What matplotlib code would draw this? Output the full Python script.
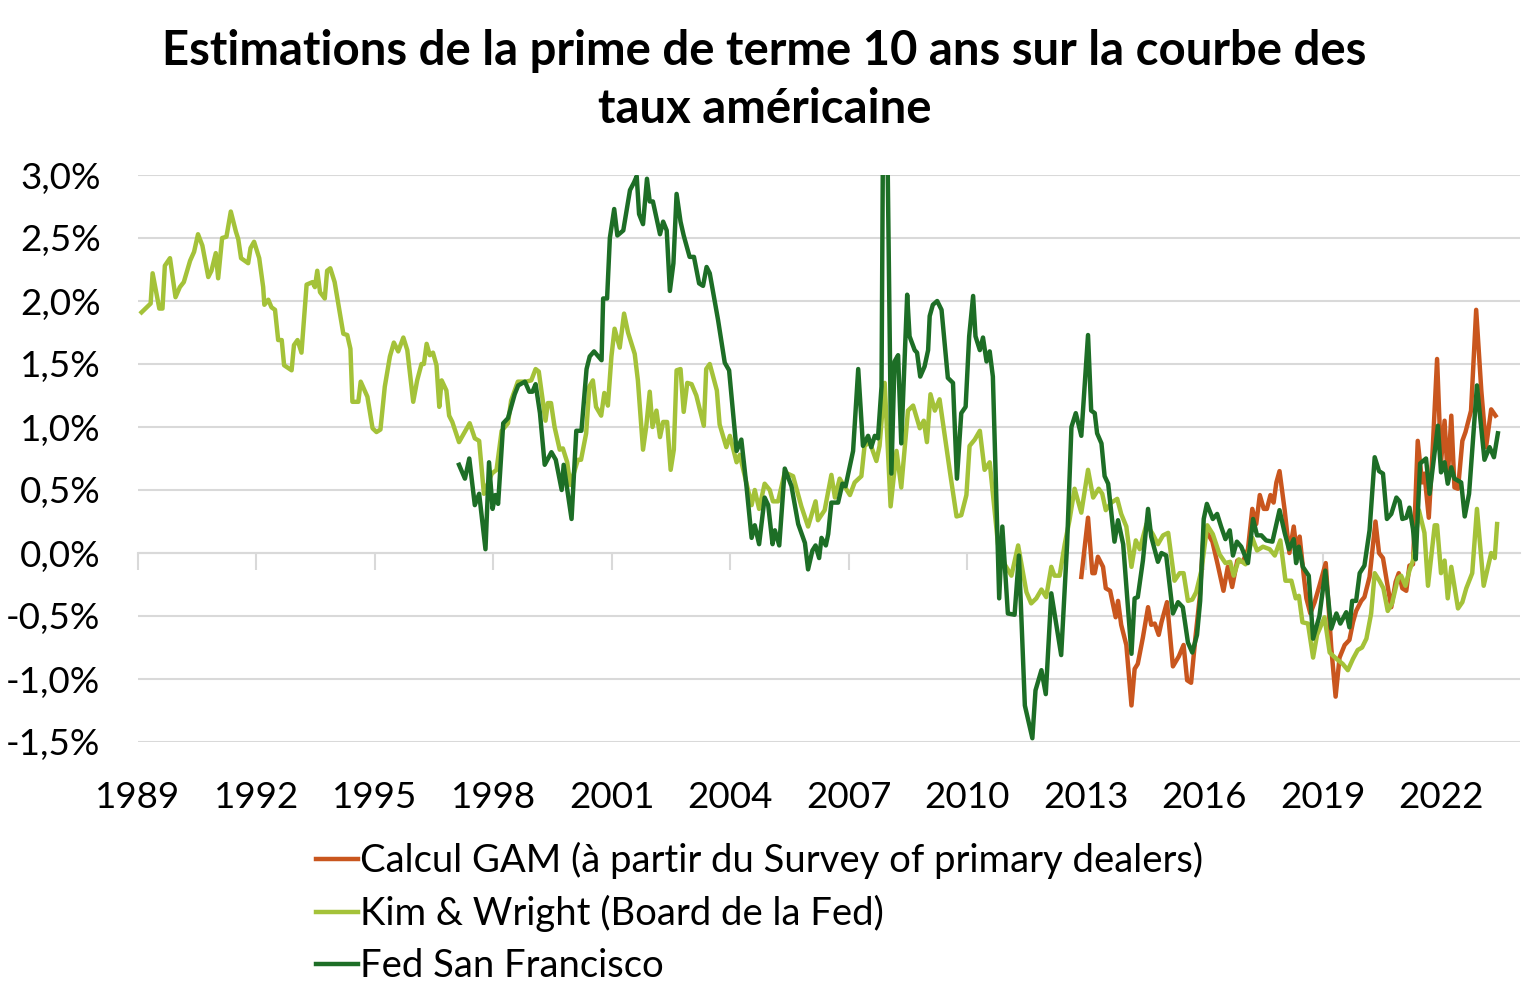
import matplotlib
matplotlib.use("Agg")
import matplotlib.pyplot as plt
from matplotlib.ticker import FuncFormatter

plt.rcParams['font.family'] = ['Lato', 'DejaVu Sans']

# ---------------- data (decimal years, % values) ----------------
kw_years = [1989.09, 1989.32, 1989.37, 1989.54, 1989.62, 1989.68, 1989.81, 1989.95, 1990.06, 1990.16,
            1990.32, 1990.42, 1990.52, 1990.63, 1990.78, 1990.86, 1990.97, 1991.03, 1991.13, 1991.24,
            1991.35, 1991.48, 1991.54, 1991.61, 1991.79, 1991.85, 1991.94, 1992.07, 1992.17, 1992.20,
            1992.30, 1992.38, 1992.47, 1992.55, 1992.64, 1992.70, 1992.89, 1992.95, 1993.04, 1993.14,
            1993.27, 1993.42, 1993.48, 1993.54, 1993.61, 1993.73, 1993.79, 1993.87, 1993.98, 1994.20,
            1994.30, 1994.38, 1994.43, 1994.58, 1994.64, 1994.81, 1994.94, 1995.04, 1995.14, 1995.25,
            1995.38, 1995.48, 1995.59, 1995.72, 1995.82, 1995.97, 1996.07, 1996.18, 1996.24, 1996.31,
            1996.39, 1996.47, 1996.56, 1996.63, 1996.69, 1996.81, 1996.88, 1996.96, 1997.13, 1997.40,
            1997.53, 1997.64, 1997.76, 1997.96, 1998.08, 1998.21, 1998.37, 1998.45, 1998.62, 1998.83,
            1998.96, 1999.07, 1999.15, 1999.32, 1999.38, 1999.46, 1999.55, 1999.68, 1999.76, 1999.87,
            1999.95, 2000.14, 2000.22, 2000.35, 2000.43, 2000.52, 2000.60, 2000.73, 2000.81, 2000.90,
            2000.99, 2001.07, 2001.20, 2001.31, 2001.41, 2001.58, 2001.66, 2001.79, 2001.87, 2001.96,
            2002.03, 2002.13, 2002.22, 2002.30, 2002.40, 2002.49, 2002.57, 2002.64, 2002.74, 2002.82,
            2002.91, 2003.02, 2003.14, 2003.33, 2003.39, 2003.48, 2003.66, 2003.73, 2003.90, 2003.99,
            2004.16, 2004.24, 2004.54, 2004.62, 2004.73, 2004.87, 2005.00, 2005.08, 2005.21, 2005.38,
            2005.59, 2005.80, 2005.97, 2006.16, 2006.22, 2006.39, 2006.56, 2006.65, 2006.77, 2007.03,
            2007.15, 2007.32, 2007.40, 2007.53, 2007.70, 2007.78, 2007.91, 2008.06, 2008.21, 2008.33,
            2008.50, 2008.63, 2008.80, 2008.90, 2008.98, 2009.07, 2009.18, 2009.30, 2009.56, 2009.73,
            2009.85, 2009.98, 2010.06, 2010.19, 2010.32, 2010.44, 2010.57, 2010.78, 2010.95, 2011.12,
            2011.29, 2011.50, 2011.62, 2011.75, 2011.88, 2012.00, 2012.13, 2012.21, 2012.34, 2012.47,
            2012.59, 2012.72, 2012.89, 2013.06, 2013.19, 2013.33, 2013.42, 2013.51, 2013.65, 2013.80,
            2013.90, 2014.03, 2014.16, 2014.27, 2014.37, 2014.54, 2014.70, 2014.83, 2014.96, 2015.09,
            2015.25, 2015.38, 2015.48, 2015.59, 2015.70, 2015.80, 2015.93, 2016.08, 2016.22, 2016.39,
            2016.54, 2016.66, 2016.75, 2016.88, 2017.05, 2017.22, 2017.34, 2017.49, 2017.66, 2017.79,
            2017.93, 2018.06, 2018.21, 2018.32, 2018.40, 2018.49, 2018.63, 2018.76, 2018.86, 2019.05,
            2019.18, 2019.35, 2019.51, 2019.64, 2019.77, 2019.89, 2020.00, 2020.11, 2020.23, 2020.32,
            2020.44, 2020.54, 2020.65, 2020.76, 2020.91, 2020.99, 2021.10, 2021.20, 2021.29, 2021.44,
            2021.58, 2021.67, 2021.84, 2021.90, 2022.00, 2022.09, 2022.17, 2022.26, 2022.43, 2022.54,
            2022.64, 2022.79, 2022.91, 2023.08, 2023.27, 2023.36, 2023.42]
kw_vals = [1.91, 1.98, 2.22, 1.94, 1.94, 2.28, 2.34, 2.03, 2.11, 2.15,
           2.32, 2.39, 2.53, 2.44, 2.19, 2.24, 2.38, 2.18, 2.50, 2.51,
           2.71, 2.55, 2.49, 2.34, 2.30, 2.42, 2.47, 2.34, 2.11, 1.97,
           2.01, 1.95, 1.93, 1.69, 1.69, 1.49, 1.45, 1.65, 1.69, 1.59,
           2.13, 2.15, 2.11, 2.24, 2.07, 2.02, 2.24, 2.26, 2.15, 1.74,
           1.73, 1.62, 1.20, 1.20, 1.36, 1.24, 0.99, 0.96, 0.98, 1.32,
           1.56, 1.67, 1.60, 1.71, 1.61, 1.20, 1.37, 1.50, 1.50, 1.66,
           1.57, 1.59, 1.49, 1.16, 1.37, 1.29, 1.09, 1.04, 0.88, 1.03,
           0.91, 0.89, 0.47, 0.63, 0.66, 0.97, 1.03, 1.21, 1.36, 1.36,
           1.37, 1.46, 1.44, 1.05, 1.19, 1.19, 1.00, 0.82, 0.83, 0.72,
           0.54, 0.74, 0.74, 0.95, 1.32, 1.37, 1.16, 1.09, 1.27, 1.17,
           1.56, 1.78, 1.63, 1.90, 1.75, 1.58, 1.37, 0.82, 1.00, 1.28,
           1.00, 1.13, 0.92, 1.04, 1.04, 0.66, 0.82, 1.45, 1.46, 1.12,
           1.35, 1.34, 1.25, 1.01, 1.46, 1.50, 1.29, 1.02, 0.84, 0.93,
           0.72, 0.78, 0.38, 0.50, 0.35, 0.55, 0.50, 0.41, 0.41, 0.64,
           0.61, 0.37, 0.21, 0.41, 0.26, 0.34, 0.62, 0.44, 0.59, 0.46,
           0.56, 0.61, 0.85, 0.88, 0.73, 0.85, 1.35, 0.37, 0.81, 0.52,
           1.13, 1.17, 0.99, 1.05, 0.88, 1.26, 1.13, 1.22, 0.65, 0.29,
           0.30, 0.46, 0.85, 0.90, 0.97, 0.66, 0.72, 0.07, -0.09, -0.18,
           0.06, -0.31, -0.40, -0.36, -0.29, -0.35, -0.11, -0.18, -0.18, 0.07,
           0.26, 0.51, 0.32, 0.66, 0.44, 0.51, 0.47, 0.34, 0.40, 0.43,
           0.31, 0.21, -0.11, 0.10, 0.03, 0.23, 0.15, 0.07, 0.14, 0.16,
           -0.22, -0.16, -0.16, -0.38, -0.37, -0.31, -0.14, 0.22, 0.15, -0.01,
           -0.08, -0.07, -0.18, -0.05, -0.09, 0.12, 0.02, 0.05, 0.03, -0.02,
           0.10, -0.22, -0.22, -0.36, -0.34, -0.55, -0.56, -0.83, -0.65, -0.51,
           -0.79, -0.84, -0.88, -0.93, -0.84, -0.77, -0.75, -0.68, -0.48, -0.16,
           -0.22, -0.28, -0.46, -0.40, -0.20, -0.18, -0.26, -0.14, -0.06, 0.34,
           0.16, -0.26, 0.22, 0.22, -0.16, -0.06, -0.36, -0.11, -0.44, -0.39,
           -0.28, -0.16, 0.35, -0.26, 0.00, -0.04, 0.23]

sf_years = [1997.13, 1997.28, 1997.39, 1997.53, 1997.64, 1997.80, 1997.89, 1997.98, 1998.05, 1998.12,
            1998.25, 1998.37, 1998.54, 1998.63, 1998.80, 1998.91, 1998.99, 1999.07, 1999.18, 1999.30,
            1999.47, 1999.58, 1999.73, 1999.78, 1999.98, 2000.10, 2000.23, 2000.36, 2000.44, 2000.55,
            2000.74, 2000.78, 2000.88, 2000.95, 2001.06, 2001.14, 2001.29, 2001.39, 2001.46, 2001.56,
            2001.63, 2001.69, 2001.79, 2001.89, 2001.96, 2002.04, 2002.22, 2002.30, 2002.39, 2002.47,
            2002.56, 2002.64, 2002.74, 2002.82, 2002.97, 2003.08, 2003.21, 2003.31, 2003.40, 2003.48,
            2003.69, 2003.86, 2003.97, 2004.16, 2004.28, 2004.41, 2004.54, 2004.62, 2004.73, 2004.87,
            2004.96, 2005.07, 2005.13, 2005.24, 2005.38, 2005.55, 2005.72, 2005.89, 2005.97, 2006.08,
            2006.16, 2006.25, 2006.31, 2006.42, 2006.48, 2006.56, 2006.73, 2006.84, 2006.92, 2007.11,
            2007.24, 2007.36, 2007.49, 2007.57, 2007.66, 2007.74, 2007.83, 2007.88, 2007.95, 2008.08,
            2008.16, 2008.25, 2008.33, 2008.48, 2008.54, 2008.67, 2008.73, 2008.81, 2008.92, 2009.01,
            2009.05, 2009.13, 2009.24, 2009.35, 2009.51, 2009.64, 2009.74, 2009.85, 2009.96, 2010.05,
            2010.15, 2010.21, 2010.32, 2010.40, 2010.49, 2010.57, 2010.65, 2010.81, 2010.89, 2011.03,
            2011.20, 2011.31, 2011.46, 2011.65, 2011.73, 2011.88, 2011.99, 2012.13, 2012.38, 2012.53,
            2012.64, 2012.75, 2012.89, 2013.06, 2013.14, 2013.23, 2013.29, 2013.40, 2013.48, 2013.57,
            2013.73, 2013.82, 2013.95, 2014.16, 2014.24, 2014.32, 2014.45, 2014.58, 2014.66, 2014.83,
            2014.92, 2015.04, 2015.21, 2015.34, 2015.46, 2015.59, 2015.70, 2015.82, 2015.90, 2015.99,
            2016.07, 2016.22, 2016.33, 2016.43, 2016.54, 2016.65, 2016.73, 2016.83, 2016.94, 2017.11,
            2017.24, 2017.34, 2017.45, 2017.57, 2017.73, 2017.91, 2018.04, 2018.15, 2018.27, 2018.33,
            2018.40, 2018.50, 2018.65, 2018.76, 2018.92, 2019.07, 2019.22, 2019.35, 2019.45, 2019.60,
            2019.68, 2019.75, 2019.85, 2019.94, 2020.06, 2020.19, 2020.32, 2020.43, 2020.53, 2020.63,
            2020.74, 2020.87, 2020.95, 2021.02, 2021.12, 2021.20, 2021.29, 2021.36, 2021.47, 2021.62,
            2021.71, 2021.92, 2022.00, 2022.09, 2022.17, 2022.26, 2022.34, 2022.51, 2022.60, 2022.71,
            2022.91, 2023.10, 2023.23, 2023.34, 2023.44]
sf_vals = [0.70, 0.59, 0.75, 0.38, 0.47, 0.03, 0.72, 0.35, 0.46, 0.39,
           1.03, 1.07, 1.26, 1.33, 1.36, 1.28, 1.28, 1.34, 1.11, 0.70,
           0.80, 0.74, 0.50, 0.70, 0.27, 0.97, 0.97, 1.46, 1.56, 1.60,
           1.53, 2.02, 2.02, 2.50, 2.73, 2.52, 2.56, 2.75, 2.88, 2.94,
           2.99, 2.69, 2.61, 2.97, 2.79, 2.79, 2.53, 2.63, 2.56, 2.08,
           2.30, 2.85, 2.63, 2.52, 2.35, 2.35, 2.14, 2.12, 2.27, 2.22,
           1.85, 1.51, 1.45, 0.81, 0.90, 0.53, 0.12, 0.22, 0.07, 0.44,
           0.38, 0.07, 0.18, 0.06, 0.67, 0.53, 0.23, 0.08, -0.13, 0.02,
           0.06, -0.04, 0.12, 0.06, 0.15, 0.40, 0.40, 0.55, 0.53, 0.81,
           1.46, 0.85, 0.93, 0.84, 0.93, 0.91, 1.32, 4.00, 4.00, 0.63,
           1.52, 1.57, 0.87, 2.05, 1.72, 1.61, 1.59, 1.40, 1.48, 1.61,
           1.88, 1.97, 2.00, 1.93, 1.39, 1.35, 0.59, 1.11, 1.16, 1.72,
           2.04, 1.72, 1.61, 1.71, 1.52, 1.60, 1.40, -0.36, 0.21, -0.48,
           -0.49, -0.02, -1.21, -1.47, -1.09, -0.93, -1.12, -0.32, -0.81, 0.07,
           1.00, 1.11, 0.93, 1.73, 1.13, 1.11, 0.95, 0.87, 0.61, 0.55,
           0.09, 0.26, 0.07, -0.80, -0.36, -0.35, -0.06, 0.35, 0.13, -0.07,
           0.00, -0.02, -0.48, -0.39, -0.43, -0.71, -0.79, -0.65, -0.38, 0.27,
           0.39, 0.27, 0.31, 0.21, 0.11, 0.18, -0.02, 0.09, 0.05, -0.08,
           0.27, 0.14, 0.14, 0.10, 0.09, 0.34, 0.16, 0.03, 0.11, -0.08,
           0.05, -0.11, -0.18, -0.68, -0.50, -0.14, -0.60, -0.48, -0.56, -0.47,
           -0.59, -0.38, -0.38, -0.16, -0.10, 0.18, 0.76, 0.65, 0.63, 0.27,
           0.31, 0.44, 0.41, 0.27, 0.28, 0.36, 0.19, -0.05, 0.71, 0.75,
           0.47, 1.01, 0.64, 0.72, 0.55, 0.68, 0.59, 0.56, 0.29, 0.47,
           1.33, 0.74, 0.84, 0.76, 0.95]

gam_years = [2012.89, 2013.06, 2013.17, 2013.23, 2013.31, 2013.44, 2013.51, 2013.62, 2013.76, 2013.82,
             2013.90, 2014.03, 2014.16, 2014.24, 2014.32, 2014.45, 2014.58, 2014.66, 2014.75, 2014.85,
             2014.92, 2015.06, 2015.21, 2015.36, 2015.48, 2015.57, 2015.67, 2015.78, 2015.89, 2015.99,
             2016.10, 2016.21, 2016.35, 2016.49, 2016.60, 2016.71, 2016.84, 2016.98, 2017.11, 2017.22,
             2017.32, 2017.41, 2017.51, 2017.59, 2017.68, 2017.76, 2017.83, 2017.91, 2018.04, 2018.16,
             2018.27, 2018.33, 2018.42, 2018.52, 2018.59, 2018.69, 2018.80, 2018.92, 2019.08, 2019.22,
             2019.33, 2019.43, 2019.56, 2019.68, 2019.77, 2019.85, 2019.98, 2020.06, 2020.19, 2020.34,
             2020.43, 2020.53, 2020.63, 2020.74, 2020.85, 2020.93, 2021.02, 2021.12, 2021.20, 2021.29,
             2021.41, 2021.52, 2021.58, 2021.69, 2021.79, 2021.90, 2022.00, 2022.09, 2022.17, 2022.26,
             2022.34, 2022.43, 2022.54, 2022.62, 2022.76, 2022.89, 2023.02, 2023.14, 2023.27, 2023.38]
gam_vals = [-0.19, 0.28, -0.16, -0.16, -0.03, -0.11, -0.28, -0.30, -0.51, -0.38,
            -0.57, -0.73, -1.21, -0.92, -0.88, -0.67, -0.43, -0.57, -0.56, -0.65,
            -0.55, -0.39, -0.90, -0.82, -0.73, -1.01, -1.03, -0.67, -0.35, 0.17,
            0.15, 0.09, -0.10, -0.30, -0.11, -0.27, -0.06, -0.07, 0.03, 0.35,
            0.23, 0.46, 0.35, 0.35, 0.46, 0.40, 0.56, 0.65, 0.34, 0.00,
            0.21, 0.05, 0.13, -0.17, -0.36, -0.48, -0.39, -0.26, -0.08, -0.75,
            -1.14, -0.83, -0.73, -0.69, -0.55, -0.46, -0.38, -0.35, -0.19, 0.25,
            0.00, -0.04, -0.23, -0.43, -0.23, -0.16, -0.28, -0.30, -0.10, -0.09,
            0.89, 0.56, 0.63, 0.28, 0.83, 1.54, 0.72, 1.05, 0.59, 1.09,
            0.52, 0.51, 0.89, 0.96, 1.13, 1.93, 1.29, 0.84, 1.14, 1.09]

series_labels = ["Calcul GAM (à partir du Survey of primary dealers)",
                 "Kim & Wright (Board de la Fed)",
                 "Fed San Francisco"]
series_colors = ["#C9561E", "#A4C239", "#1D6E26"]
title = "Estimations de la prime de terme 10 ans sur la courbe des\ntaux américaine"
x_ticks = list(range(1989, 2023, 3))
y_ticks = [-1.5, -1.0, -0.5, 0.0, 0.5, 1.0, 1.5, 2.0, 2.5, 3.0]

# ---------------- figure ----------------
fig = plt.figure(figsize=(15.29, 9.99), dpi=100)
ax = fig.add_axes([138/1529, 1-742/999, (1520-138)/1529, (742-175)/999])

grid_col = "#D9D9D9"
lw = 3.2
h1, = ax.plot(gam_years, gam_vals, color=series_colors[0], lw=lw, zorder=3, solid_joinstyle='round')
h2, = ax.plot(kw_years, kw_vals, color=series_colors[1], lw=lw, zorder=4, solid_joinstyle='round')
h3, = ax.plot(sf_years, sf_vals, color=series_colors[2], lw=lw, zorder=5, solid_joinstyle='round')

ax.set_xlim(1989, 2024)
ax.set_ylim(-1.5, 3.0)
ax.set_yticks(y_ticks)
ax.yaxis.set_major_formatter(FuncFormatter(lambda v, p: f"{v:.1f}%".replace('.', ',')))
ax.grid(axis='y', color=grid_col, lw=1.5, zorder=0)
ax.tick_params(axis='y', length=0, labelsize=26.5, pad=27)

for s in ['top', 'right', 'left']:
    ax.spines[s].set_visible(False)
ax.spines['bottom'].set_position(('data', 0))
ax.spines['bottom'].set_color(grid_col)
ax.spines['bottom'].set_linewidth(1.5)
ax.set_xticks(x_ticks)
ax.tick_params(axis='x', direction='out', length=12, width=1.5, color=grid_col, labelbottom=False)

sec = ax.secondary_xaxis(location=0)
sec.set_xticks(x_ticks)
sec.set_xticklabels([str(y) for y in x_ticks])
sec.tick_params(axis='x', length=0, labelsize=26.5, pad=28)
sec.spines['bottom'].set_visible(False)

fig.text(0.5, 1-80/999, title, ha='center', va='center', fontsize=34, fontweight='bold',
         linespacing=1.4)

leg = fig.legend([h1, h2, h3], series_labels, loc='upper left',
                 bbox_to_anchor=(316/1529, 1-842/999), frameon=False, fontsize=27.5,
                 handlelength=1.1, handletextpad=0.05, labelspacing=0.42, borderpad=0,
                 borderaxespad=0)

fig.savefig("out.png", dpi=100)
